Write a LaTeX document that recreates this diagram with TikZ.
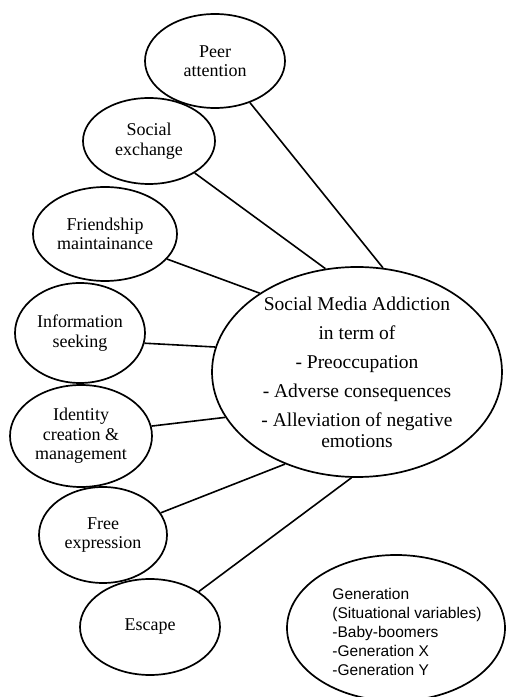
\documentclass[tikz,border=0pt]{standalone}
\usepackage{fontspec}
\setmainfont{Liberation Serif}
\newfontfamily\gensans{Liberation Sans}
\usetikzlibrary{shapes.geometric}
\begin{document}
\begin{tikzpicture}[x=1pt,y=1pt,
  oval/.style={draw=black, line width=1.7pt, ellipse, inner sep=0pt, align=center,
    font=\fontsize{18}{19.5}\selectfont},
  link/.style={draw=black, line width=1.6pt}]
\useasboundingbox (0,0) rectangle (507,697);
\node[oval, minimum width=140, minimum height=94] (peer) at (215,636) {Peer\\attention};
\node[oval, minimum width=132, minimum height=86] (social) at (149,556) {Social\\exchange};
\node[oval, minimum width=144, minimum height=94] (friend) at (105,463) {Friendship\\maintainance};
\node[oval, minimum width=130, minimum height=100] (info) at (80,364) {Information\\seeking};
\node[oval, minimum width=142, minimum height=102] (ident) at (81,261) {Identity\\creation \&\\management};
\node[oval, minimum width=128, minimum height=96] (free) at (103,162) {Free\\expression};
\node[oval, minimum width=140, minimum height=96] (escape) at (150,70) {Escape};
\node[oval, minimum width=290, minimum height=210] (big) at (357,325) {};
\node[align=center, inner sep=0pt, font=\fontsize{19.5}{21}\selectfont] (bigtext) at (big.center)
  {Social Media Addiction\\[8pt] in term of\\[8pt] - Preoccupation\\[8pt] - Adverse consequences\\[8pt] - Alleviation of negative\\ emotions};
\node[oval, minimum width=218, minimum height=146] (gen) at (396,69) {};
\node[align=left, inner sep=0pt, font=\gensans\fontsize{15.5}{18.8}\selectfont] (gentext) at (407,65)
  {Generation\\(Situational variables)\\-Baby-boomers\\-Generation X\\-Generation Y};
\draw[link] (peer.-50) -- (big.76);
\draw[link] (social.-35) -- (big.107);
\draw[link] (friend.-22) -- (big.141);
\draw[link] (info.-9) -- (big.170);
\draw[link] (ident.8) -- (big.-161);
\draw[link] (free.21) -- (big.-128);
\draw[link] (escape.36) -- (big.-93);
\end{tikzpicture}
\end{document}
